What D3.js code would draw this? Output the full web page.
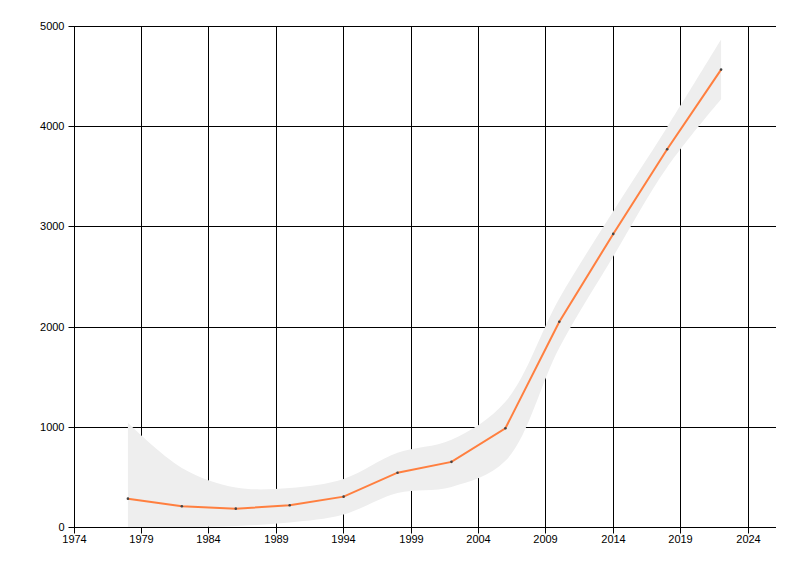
<!DOCTYPE html>
<html><head><meta charset="utf-8">
<script src="https://cdn.jsdelivr.net/npm/d3@7"></script>
<style>body{margin:0;background:#fff}svg{display:block}</style>
</head><body>
<svg id="c" width="800" height="576"></svg>
<script>
const years = [1978,1982,1986,1990,1994,1998,2002,2006,2010,2014,2018,2022];
const values = [283,207,183,217,303,542,650,985,2048,2925,3770,4565];
const upper = [1040,590,395,390,480,740,870,1250,2280,3150,3990,4865];
const lower = [0,0,10,45,125,340,400,660,1790,2700,3590,4270];
const xTicks = [1974,1979,1984,1989,1994,1999,2004,2009,2014,2019,2024];
const yTicks = [0,1000,2000,3000,4000,5000];

const svg = d3.select("#c");
const m = {l:74, t:26, r:775, b:527};
const x = d3.scaleLinear().domain([1974,2026]).range([m.l,m.r]);
const y = d3.scaleLinear().domain([0,5000]).range([m.b,m.t]);
const px = v => Math.floor(v) + 0.5;
const py = v => Math.round(v) + 0.5;

// grid
svg.append("g").selectAll("line").data(xTicks).join("line")
  .attr("x1",d=>px(x(d))).attr("x2",d=>px(x(d)))
  .attr("y1",m.t).attr("y2",m.b).attr("stroke","#000").attr("stroke-width",1);
svg.append("g").selectAll("line").data(yTicks).join("line")
  .attr("x1",m.l).attr("x2",m.r+1)
  .attr("y1",d=>py(y(d))).attr("y2",d=>py(y(d)))
  .attr("stroke","#000").attr("stroke-width",1);

// band
const band = years.map((yr,i)=>({yr,u:upper[i],l:lower[i]}));
svg.append("path").datum(band)
  .attr("fill","#eeeeee")
  .attr("d", d3.area().x(d=>x(d.yr)).y0(d=>y(d.l)).y1(d=>y(d.u)).curve(d3.curveCatmullRom.alpha(0.5)));

// line
const pts = years.map((yr,i)=>({yr,v:values[i]}));
svg.append("path").datum(pts)
  .attr("fill","none").attr("stroke","#ff7f3f").attr("stroke-width",2)
  .attr("d", d3.line().x(d=>x(d.yr)).y(d=>y(d.v)));
svg.append("g").selectAll("circle").data(pts).join("circle")
  .attr("cx",d=>x(d.yr)).attr("cy",d=>y(d.v)).attr("r",1.3).attr("fill","#444");

// axes
const xa = svg.append("g").attr("transform",`translate(0,${py(m.b)})`)
  .call(d3.axisBottom(x).tickValues(xTicks).tickFormat(d3.format("d")).tickSize(6).tickPadding(2));
const ya = svg.append("g").attr("transform",`translate(${px(m.l)},0)`)
  .call(d3.axisLeft(y).tickValues(yTicks).tickFormat(d3.format("d")).tickSize(6).tickPadding(4));
[xa,ya].forEach(a=>{
  a.select(".domain").remove();
  a.selectAll("line").attr("stroke","#000");
  a.selectAll("text").attr("fill","#000").style("font-family","'Liberation Sans', Arial, sans-serif").style("font-size","11px");
});
xa.selectAll(".tick").attr("transform",d=>`translate(${px(x(d))},0)`);
ya.selectAll(".tick").attr("transform",d=>`translate(0,${py(y(d))})`);
</script>
</body></html>
